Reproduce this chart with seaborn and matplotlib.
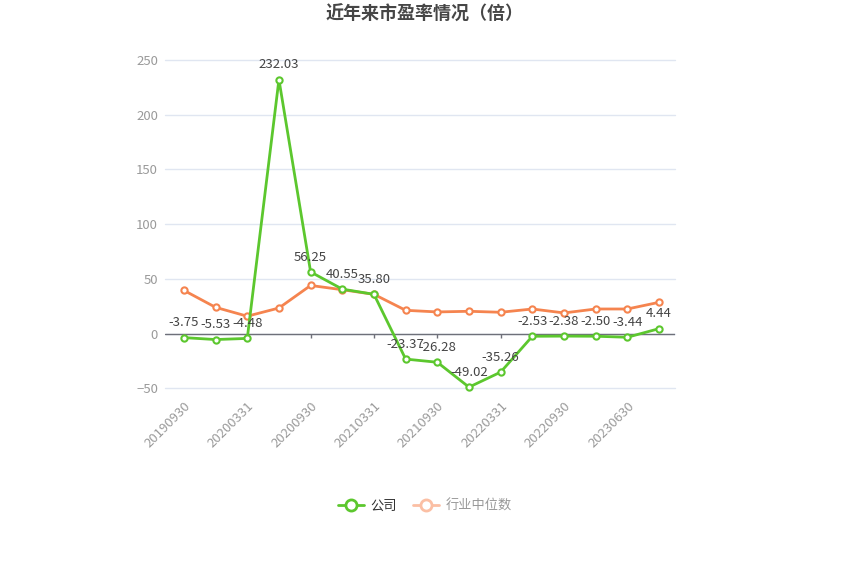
import matplotlib
matplotlib.use("Agg")
import matplotlib.pyplot as plt
from matplotlib.lines import Line2D
import pandas as pd
import seaborn as sns

# 近年来市盈率情况
dates = ['20190930', '20191231', '20200331', '20200630', '20200930', '20201231',
         '20210331', '20210630', '20210930', '20211231', '20220331', '20220630',
         '20220930', '20221231', '20230630', '20230930']
company = [-3.75, -5.53, -4.48, 232.03, 56.25, 40.55, 35.80, -23.37, -26.28,
           -49.02, -35.26, -2.53, -2.38, -2.50, -3.44, 4.44]
industry = [39.4, 23.9, 15.8, 23.3, 43.9, 40.0, 35.8, 21.2, 19.7, 20.3, 19.4,
            22.4, 18.8, 22.4, 22.4, 28.5]

green = '#5cc72e'
orange = '#f5844f'

sns.set_theme(style='white')
plt.rcParams['font.family'] = ['Noto Sans CJK SC', 'DejaVu Sans']

df = pd.DataFrame({'idx': range(len(dates)), '公司': company, '行业中位数': industry})

fig = plt.figure(figsize=(8.5, 5.76), dpi=100)
ax = fig.add_axes([0.194, 0.326, 0.6, 0.57])

for col, c, z in [('行业中位数', orange, 2), ('公司', green, 3)]:
    sns.lineplot(data=df, x='idx', y=col, ax=ax, color=c, linewidth=2,
                 marker='o', markersize=4.5, markerfacecolor='white',
                 markeredgecolor=c, markeredgewidth=1.5, zorder=z, clip_on=False)

for i, v in enumerate(company):
    ax.annotate(f'{v:.2f}', (i, v), xytext=(0, 6), textcoords='offset points',
                ha='center', va='bottom', fontsize=9.5, color='#444444', zorder=5)

ax.set_xlim(-0.6, 15.5)
ax.set_ylim(-50, 250)
ax.set_yticks([-50, 0, 50, 100, 150, 200, 250])
ax.yaxis.grid(True, color='#e0e6f1', linewidth=1)
for gl in ax.get_ygridlines():
    gl.set_clip_on(False)
ax.axhline(0, color='#6e7079', linewidth=1, zorder=1)
ax.vlines(range(0, len(dates), 2), -4.5, 0, color='#6e7079', linewidth=1, zorder=1)
for s in ax.spines.values():
    s.set_visible(False)

ax.set_xticks(range(0, len(dates), 2))
ax.set_xticklabels(dates[::2], rotation=45, ha='right', rotation_mode='anchor',
                   fontsize=9.5, color='#9a9a9a')
ax.tick_params(axis='y', labelsize=9.5, colors='#9a9a9a', length=0, pad=5)
ax.tick_params(axis='x', length=0, pad=8)
ax.set_xlabel('')
ax.set_ylabel('')

fig.text(0.5, 0.975, '近年来市盈率情况（倍）', ha='center', va='center',
         fontsize=13, fontweight='bold', color='#464646')

handles = [
    Line2D([0], [0], color=green, linewidth=2, marker='o', markersize=8,
           markerfacecolor='white', markeredgecolor=green, markeredgewidth=2),
    Line2D([0], [0], color='#fbbfa4', linewidth=2, marker='o', markersize=8,
           markerfacecolor='white', markeredgecolor='#fbbfa4', markeredgewidth=2),
]
leg = fig.legend(handles, ['公司', '行业中位数'], loc='center',
                 bbox_to_anchor=(0.5, 0.122), ncol=2, frameon=False,
                 fontsize=9.5, handlelength=2, columnspacing=1.2, handletextpad=0.5)
leg.get_texts()[0].set_color('#333333')
leg.get_texts()[1].set_color('#999999')

fig.savefig('out.png', dpi=100)
